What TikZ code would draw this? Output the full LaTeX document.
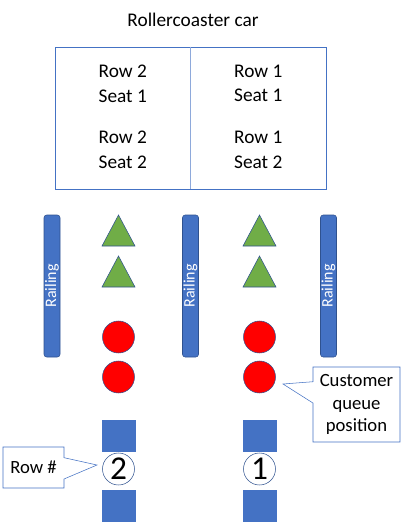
\documentclass[tikz,border=0pt]{standalone}
\usepackage{fontspec}
\setmainfont{Carlito}
\usetikzlibrary{shapes.callouts}
\definecolor{officeblue}{RGB}{68,114,196}
\definecolor{darkblue}{RGB}{47,82,143}
\definecolor{lightblue}{RGB}{142,169,219}
\definecolor{grassgreen}{RGB}{112,173,71}

\begin{document}
\begin{tikzpicture}[x=0.75pt,y=-0.75pt,
  seat/.style={align=center,font=\fontsize{14.5}{18.5}\selectfont},
  railing/.style={draw=darkblue,fill=officeblue,rounded corners=2pt,rotate=90,
    minimum width=106.5pt,minimum height=12pt,inner sep=0pt,
    text=white,font=\fontsize{12}{13}\selectfont},
  seatmark/.style={draw=darkblue,fill=grassgreen,line join=miter},
  queuedot/.style={circle,draw=darkblue,fill=red,minimum size=24pt,inner sep=0pt},
  rowsq/.style={draw=officeblue,fill=officeblue,minimum width=24.75pt,minimum height=23.25pt,inner sep=0pt},
  rownum/.style={circle,draw=darkblue,fill=white,minimum size=24pt,inner sep=0pt,
    font=\fontsize{25}{25}\selectfont},
  tag/.style={rectangle callout,draw=officeblue,fill=white,align=center,
    callout pointer width=16pt,font=\fontsize{14}{17}\selectfont}]
  \useasboundingbox (0,0) rectangle (409,522);

  % the car
  \node[font=\fontsize{14.5}{17}\selectfont] (title) at (193,20) {Rollercoaster car};
  \node[draw=officeblue,minimum width=203.25pt,minimum height=106.5pt] (car) at (190.5,118) {};
  \draw[lightblue] (car.north) -- (car.south);
  \node[seat] (r2s1) at (122.75,83.5) {Row 2\\Seat 1};
  \node[seat] (r1s1) at (258.25,83.5) {Row 1\\Seat 1};
  \node[seat] (r2s2) at (122.75,150) {Row 2\\Seat 2};
  \node[seat] (r1s2) at (258.25,150) {Row 1\\Seat 2};

  % railings
  \node[railing] (rail1) at (52,286) {Railing};
  \node[railing] (rail2) at (190.5,286) {Railing};
  \node[railing] (rail3) at (328.5,286) {Railing};

  % seat markers
  \foreach \x in {118.5,259.5}
    \foreach \y in {215,256}
      \draw[seatmark] (\x-16.5,\y+31) -- (\x,\y) -- (\x+16.5,\y+31) -- cycle;

  % queue
  \node[queuedot] (q2a) at (118.5,337) {};
  \node[queuedot] (q2b) at (118.5,377) {};
  \node[queuedot] (q1a) at (259.5,337) {};
  \node[queuedot] (q1b) at (259.5,377) {};
  \node[rowsq] (sq2a) at (118.5,435.5) {};
  \node[rowsq] (sq1a) at (259.5,435.5) {};
  \node[rownum] (num2) at (118.5,469) {2};
  \node[rownum] (num1) at (259.5,469) {1};
  \node[rowsq,minimum height=24pt] (sq2b) at (118.5,506) {};
  \node[rowsq,minimum height=24pt] (sq1b) at (259.5,506) {};

  % callouts
  \coordinate (rowtip) at (97,465);
  \coordinate (queuetip) at (283,384);
  \node[tag,minimum width=45.75pt,minimum height=30.75pt,callout absolute pointer=(rowtip)] (rowtag) at (33.5,467.5) {Row \#};
  \node[tag,minimum width=65.25pt,minimum height=56.25pt,callout absolute pointer=(queuetip)] (queuetag) at (356.5,404.5) {Customer\\queue\\position};
\end{tikzpicture}
\end{document}
